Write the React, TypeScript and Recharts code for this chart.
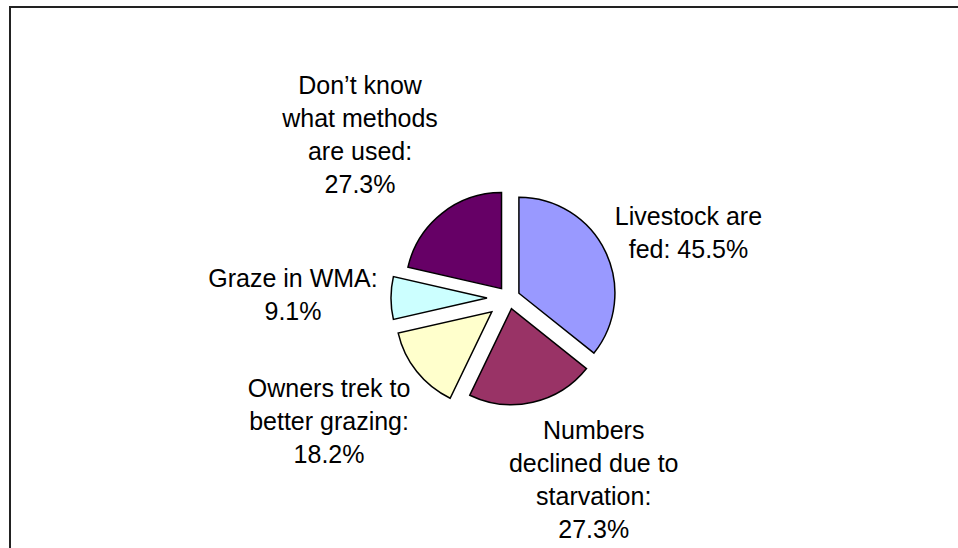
import { PieChart, Pie, Cell } from "recharts";

// survey answers (multiple responses allowed, so shares sum > 100)
const CATEGORIES = [
  "Livestock are fed",
  "Numbers declined due to starvation",
  "Owners trek to better grazing",
  "Graze in WMA",
  "Don’t know what methods are used",
];
const SHARES = [45.5, 27.3, 18.2, 9.1, 27.3];
const COLORS = ["#9999FF", "#993366", "#FFFFCC", "#CCFFFF", "#660066"];

// label text as wrapped in the original
const WRAPPED = [
  ["Livestock are", "fed:"],
  ["Numbers", "declined due to", "starvation:"],
  ["Owners trek to", "better grazing:"],
  ["Graze in WMA:"],
  ["Don’t know", "what methods", "are used:"],
];
const INLINE_VALUE = [true, false, false, false, false];

// exploded distance per slice, label distance / angle nudge
const EXPLODE = [11, 11, 22, 22, 12];
const LABEL_RADIUS = [191, 200, 218, 216, 221];
const LABEL_SHIFT = [-5.7, 12.2, -4.2, -0.8, 3.8];

const CX = 509;
const CY = 298;
const R = 96;
const LINE = 33;
const RAD = Math.PI / 180;
const FONT = '"Liberation Sans", Arial, sans-serif';

const data = CATEGORIES.map((name, i) => ({ name, value: SHARES[i] }));
const total = SHARES.reduce((a, b) => a + b, 0);

function sliceMid(i: number) {
  const before = SHARES.slice(0, i).reduce((a, b) => a + b, 0);
  return 90 - (360 * (before + SHARES[i] / 2)) / total;
}

function renderLabel(props: any) {
  const { cx, cy, midAngle, index } = props;
  const a = (midAngle + LABEL_SHIFT[index]) * RAD;
  const x = cx + LABEL_RADIUS[index] * Math.cos(a);
  const y = cy - LABEL_RADIUS[index] * Math.sin(a);
  const pct = `${SHARES[index].toFixed(1)}%`;
  const w = WRAPPED[index];
  const lines = INLINE_VALUE[index]
    ? [...w.slice(0, -1), `${w[w.length - 1]} ${pct}`]
    : [...w, pct];
  const first = y - ((lines.length - 1) * LINE) / 2 + 9;
  return (
    <text x={x} y={first} textAnchor="middle" fill="#000" fontSize={25} fontFamily={FONT}>
      {lines.map((l, k) => (
        <tspan key={k} x={x} y={first + k * LINE}>
          {l}
        </tspan>
      ))}
    </text>
  );
}

export default function App() {
  return (
    <div style={{ position: "absolute", left: 0, top: 0, width: 958, height: 548, background: "#fff" }}>
      <div
        style={{
          position: "absolute",
          left: 9,
          top: 6,
          width: 949,
          height: 542,
          boxSizing: "border-box",
          borderTop: "2px solid #222",
          borderLeft: "2px solid #222",
        }}
      />
      <div style={{ position: "absolute", left: 0, top: 0 }}>
        <PieChart width={958} height={548} margin={{ top: 0, right: 0, bottom: 0, left: 0 }}>
          {data.map((_, k) => (
            <Pie
              key={k}
              data={data}
              dataKey="value"
              cx={CX + EXPLODE[k] * Math.cos(sliceMid(k) * RAD)}
              cy={CY - EXPLODE[k] * Math.sin(sliceMid(k) * RAD)}
              outerRadius={R}
              startAngle={90}
              endAngle={-270}
              stroke="none"
              isAnimationActive={false}
            >
              {data.map((d, i) => (
                <Cell
                  key={d.name}
                  fill={i === k ? COLORS[i] : "none"}
                  stroke={i === k ? "#000" : "none"}
                  strokeWidth={1.5}
                />
              ))}
            </Pie>
          ))}
          <Pie
            data={data}
            dataKey="value"
            cx={CX}
            cy={CY}
            outerRadius={R}
            startAngle={90}
            endAngle={-270}
            fill="none"
            stroke="none"
            label={renderLabel}
            labelLine={false}
            isAnimationActive={false}
          >
            {data.map((d) => (
              <Cell key={d.name} fill="none" stroke="none" />
            ))}
          </Pie>
        </PieChart>
      </div>
    </div>
  );
}
